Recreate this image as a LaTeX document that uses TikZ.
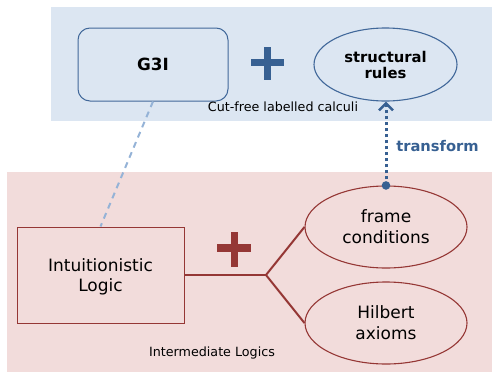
\documentclass[tikz,border=0pt]{standalone}
\usepackage{fontspec}
\setmainfont{DejaVu Sans}
\usetikzlibrary{shapes.geometric,arrows.meta}
\definecolor{bgblue}{HTML}{DCE6F2}
\definecolor{bgred}{HTML}{F2DCDB}
\definecolor{blueline}{HTML}{41689A}
\definecolor{bluedark}{HTML}{376092}
\definecolor{bluelight}{HTML}{95B3D7}
\definecolor{redline}{HTML}{953735}
\begin{document}
\begin{tikzpicture}[x=1pt,y=-1pt,
  bluebox/.style={draw=blueline, line width=1pt, rounded corners=12pt, minimum width=150pt, minimum height=73pt, inner sep=0pt, font=\fontsize{16.8}{20}\selectfont\bfseries},
  blueell/.style={ellipse, draw=blueline, line width=1.1pt, minimum width=143pt, minimum height=73pt, inner sep=0pt, align=center, font=\fontsize{14.8}{16}\selectfont\bfseries},
  redbox/.style={draw=redline, line width=1pt, minimum width=167pt, minimum height=96pt, inner sep=0pt, align=center, text depth=0pt, font=\fontsize{17}{20.3}\selectfont},
  redell/.style={ellipse, draw=redline, line width=1.1pt, minimum width=162pt, minimum height=82pt, inner sep=0pt, align=center, font=\fontsize{17}{20.7}\selectfont},
  caption/.style={anchor=base, inner sep=0pt, font=\fontsize{12.7}{15}\selectfont},
  redconn/.style={draw=redline, line width=2pt, line join=round},
]
\useasboundingbox (0,0) rectangle (492,372);
% backgrounds
\fill[bgblue] (51,7) rectangle (492,121);
\fill[bgred] (7,172) rectangle (492,372);
% top nodes
\node[bluebox] (g3i) at (153,64.5) {G3I};
\node[blueell] (sr) at (385.5,64.5) {structural\\rules};
\fill[bluedark] (251.3,59) rectangle (284.3,65.8);
\fill[bluedark] (264.3,46.7) rectangle (271.3,79.7);
\node[caption] (cap1) at (283,111.5) {Cut-free labelled calculi};
% bottom nodes
\node[redbox] (il) at (100.5,275) {Intuitionistic\\Logic};
\node[redell] (fc) at (386,227) {frame\\conditions};
\node[redell] (ha) at (386,323) {Hilbert\\axioms};
\fill[redline] (217.3,244.4) rectangle (251,251.6);
\fill[redline] (231,232.3) rectangle (238.3,266.7);
\node[caption] (cap2) at (212,356.7) {Intermediate Logics};
% connectors
\coordinate (fork) at (266,275);
\draw[redconn] (il.east) -- (fork);
\draw[redconn] (fork) -- (fc.west);
\draw[redconn] (fork) -- (ha.west);
\draw[bluelight, line width=2pt, dash pattern=on 6pt off 5pt] (g3i.south) -- (il.north);
\draw[bluedark, line width=3pt, dash pattern=on 3pt off 3pt,
  -{Straight Barb[length=7pt,width=14pt,line width=2.5pt]}]
  (fc.north) -- (fc.north |- sr.south);
\fill[bluedark] (fc.north) circle (4.3pt);
\node[anchor=base, inner sep=0pt, text=bluedark, font=\fontsize{14.7}{17}\selectfont\bfseries] (tr) at (437.5,151.5) {transform};
\end{tikzpicture}
\end{document}
